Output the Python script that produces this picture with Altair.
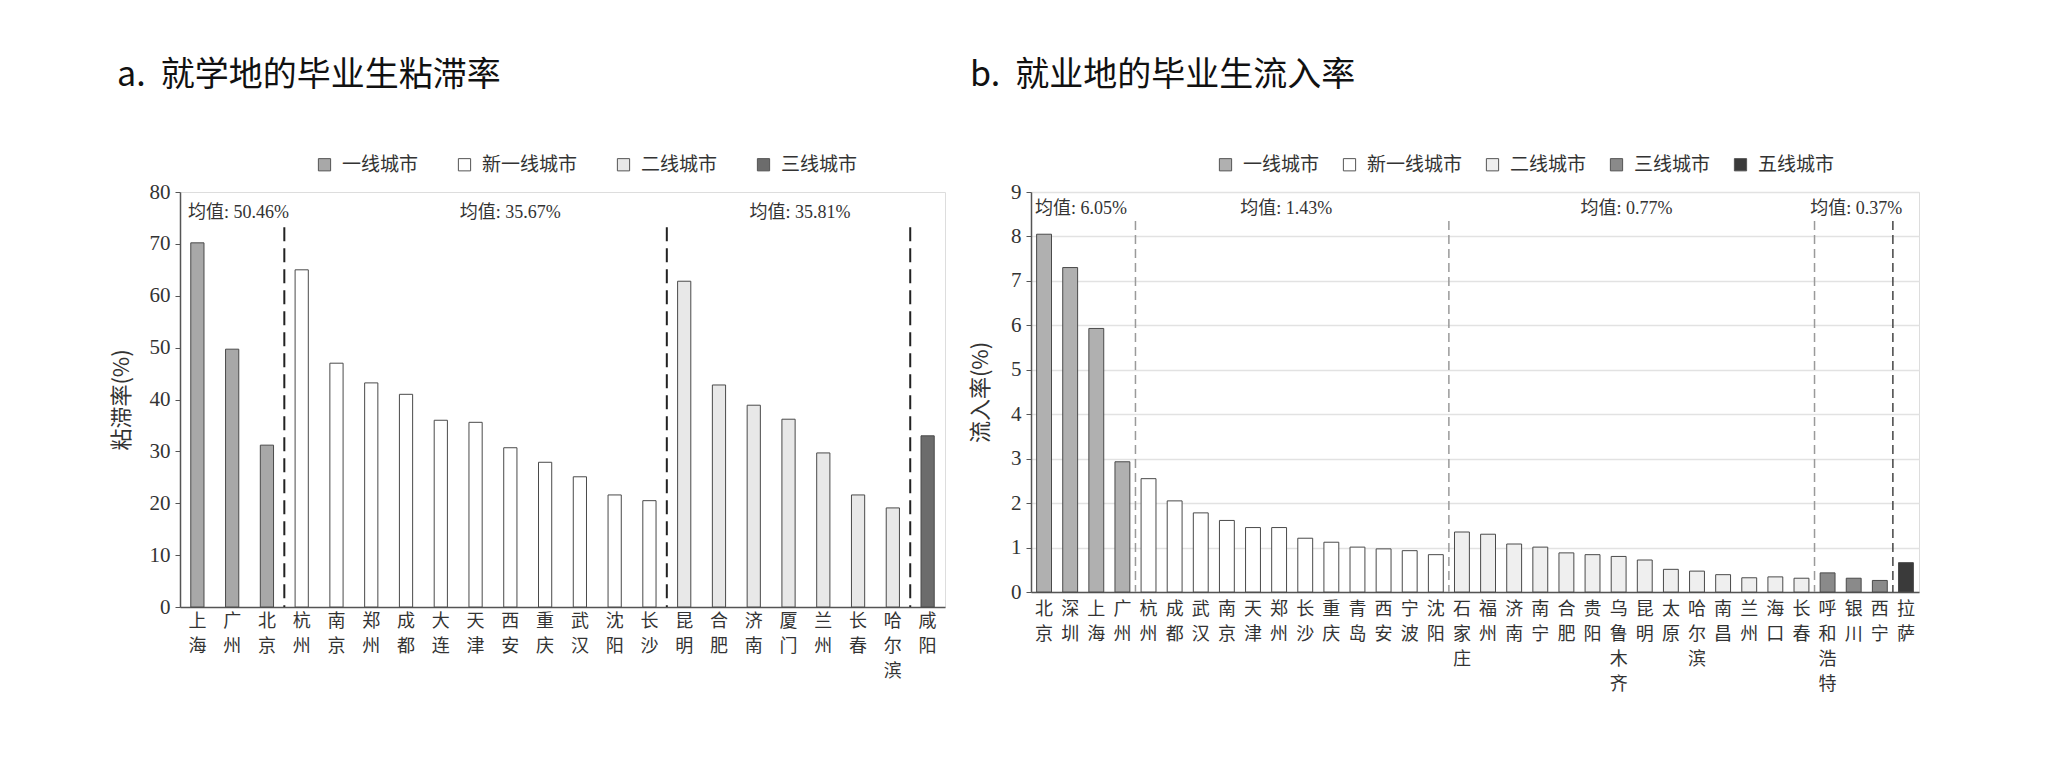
import altair as alt
import pandas as pd

CJK = "Noto Sans CJK SC"
NUM = "Liberation Serif, Noto Sans CJK SC"

# ---------------- Panel a data ----------------
a_title = "a.\u00a0\u00a0就学地的毕业生粘滞率"
a_cities = ["上海", "广州", "北京", "杭州", "南京", "郑州", "成都", "大连", "天津", "西安",
            "重庆", "武汉", "沈阳", "长沙", "昆明", "合肥", "济南", "厦门", "兰州", "长春",
            "哈尔滨", "咸阳"]
a_values = [70.2, 49.7, 31.2, 65.0, 47.0, 43.2, 41.0, 36.0, 35.6, 30.7,
            27.9, 25.1, 21.6, 20.5, 62.8, 42.8, 38.9, 36.2, 29.7, 21.6,
            19.1, 33.0]
a_tiers = ["一线城市", "一线城市", "一线城市",
           "新一线城市", "新一线城市", "新一线城市", "新一线城市", "新一线城市", "新一线城市",
           "新一线城市", "新一线城市", "新一线城市", "新一线城市", "新一线城市",
           "二线城市", "二线城市", "二线城市", "二线城市", "二线城市", "二线城市", "二线城市",
           "三线城市"]
a_tier_domain = ["一线城市", "新一线城市", "二线城市", "三线城市"]
a_tier_fill = ["#a8a8a8", "#ffffff", "#e8e8e8", "#6c6c6c"]
a_yticks = [0, 10, 20, 30, 40, 50, 60, 70, 80]
a_divider_cities = ["杭州", "昆明", "咸阳"]
a_divider_colors = ["#222222", "#222222", "#222222"]
a_divider_top = 73.2
a_mean_texts = ["均值: 50.46%", "均值: 35.67%", "均值: 35.81%"]
a_mean_cities = ["上海", "西安", "兰州"]
a_mean_band = [0.0, 0.5, 0.0]
a_mean_align = ["left", "center", "center"]
a_mean_dx = [8, 0, -6]
a_mean_y = 76.0

# ---------------- Panel b data ----------------
b_title = "b.\u00a0\u00a0就业地的毕业生流入率"
b_cities = ["北京", "深圳", "上海", "广州", "杭州", "成都", "武汉", "南京", "天津", "郑州",
            "长沙", "重庆", "青岛", "西安", "宁波", "沈阳", "石家庄", "福州", "济南", "南宁",
            "合肥", "贵阳", "乌鲁木齐", "昆明", "太原", "哈尔滨", "南昌", "兰州", "海口", "长春",
            "呼和浩特", "银川", "西宁", "拉萨"]
b_values = [8.05, 7.30, 5.93, 2.93, 2.55, 2.05, 1.78, 1.61, 1.45, 1.45,
            1.21, 1.12, 1.01, 0.97, 0.93, 0.84, 1.35, 1.30, 1.08, 1.01,
            0.88, 0.84, 0.80, 0.72, 0.51, 0.47, 0.39, 0.32, 0.34, 0.31,
            0.43, 0.31, 0.26, 0.66]
b_tiers = ["一线城市", "一线城市", "一线城市", "一线城市",
           "新一线城市", "新一线城市", "新一线城市", "新一线城市", "新一线城市", "新一线城市",
           "新一线城市", "新一线城市", "新一线城市", "新一线城市", "新一线城市", "新一线城市",
           "二线城市", "二线城市", "二线城市", "二线城市", "二线城市", "二线城市", "二线城市",
           "二线城市", "二线城市", "二线城市", "二线城市", "二线城市", "二线城市", "二线城市",
           "三线城市", "三线城市", "三线城市",
           "五线城市"]
b_tier_domain = ["一线城市", "新一线城市", "二线城市", "三线城市", "五线城市"]
b_tier_fill = ["#b0b0b0", "#ffffff", "#efefef", "#8a8a8a", "#3a3a3a"]
b_yticks = [0, 1, 2, 3, 4, 5, 6, 7, 8, 9]
b_divider_cities = ["杭州", "石家庄", "呼和浩特", "拉萨"]
b_divider_colors = ["#9a9a9a", "#9a9a9a", "#9a9a9a", "#444444"]
b_divider_top = 8.35
b_mean_texts = ["均值: 6.05%", "均值: 1.43%", "均值: 0.77%", "均值: 0.37%"]
b_mean_cities = ["北京", "郑州", "乌鲁木齐", "银川"]
b_mean_band = [0.0, 0.77, 0.8, 0.6]
b_mean_align = ["left", "center", "center", "center"]
b_mean_dx = [4, 0, 0, 0]
b_mean_y = 8.62


def panel(title, cities, values, tiers, tier_domain, tier_fill, yticks, ymax, ytitle,
          width, height, bar_band, grid, div_cities, div_colors, div_top, div_dash,
          div_width, mean_texts, mean_cities, mean_band, mean_align, mean_dx, mean_y,
          legend_x, legend_pad, title_x, ytitle_x, label_pad):
    df = pd.DataFrame({"city": cities, "value": values, "tier": tiers})
    xscale = alt.Scale(domain=cities, paddingInner=0, paddingOuter=0)
    yscale = alt.Scale(domain=[0, ymax], nice=False, zero=True)
    xaxis = alt.Axis(title=None, labelAngle=0, labelExpr="split(datum.label, '')",
                     labelLineHeight=25, labelFontSize=18, labelFont=CJK,
                     labelColor="#333333", labelBaseline="top", labelPadding=label_pad,
                     ticks=False, domainColor="#555555", domainWidth=1.5)
    yaxis = alt.Axis(title=ytitle, values=yticks, titleX=ytitle_x, titleFont=CJK,
                     titleFontSize=22, titleFontWeight="normal", titleColor="#333333",
                     labelFont=NUM, labelFontSize=21, labelColor="#333333",
                     tickSize=5, tickColor="#555555", domainColor="#555555",
                     domainWidth=1.5, labelPadding=5, grid=grid,
                     gridColor="#e2e2e2", gridWidth=1.5)
    bars = alt.Chart(df).mark_bar(
        width=alt.RelativeBandSize(bar_band), stroke="#4a4a4a", strokeWidth=1
    ).encode(
        x=alt.X("city:N", scale=xscale, axis=xaxis),
        y=alt.Y("value:Q", scale=yscale, axis=yaxis),
        fill=alt.Fill("tier:N", scale=alt.Scale(domain=tier_domain, range=tier_fill),
                      legend=alt.Legend(title=None, orient="none", legendX=legend_x,
                                        legendY=-37, direction="horizontal",
                                        columns=len(tier_domain), symbolType="square",
                                        symbolSize=150, symbolStrokeColor="#555555",
                                        symbolStrokeWidth=1, symbolOpacity=1,
                                        labelFont=CJK, labelFontSize=19,
                                        labelColor="#333333", labelOffset=8,
                                        columnPadding=legend_pad)),
    )
    ddf = pd.DataFrame({"city": div_cities, "top": [div_top] * len(div_cities),
                        "bottom": [0] * len(div_cities), "col": div_colors})
    rules = alt.Chart(ddf).mark_rule(strokeDash=div_dash, strokeWidth=div_width).encode(
        x=alt.X("city:N", bandPosition=0),
        y=alt.Y("top:Q", title=ytitle),
        y2="bottom:Q",
        color=alt.Color("col:N", scale=None),
    )
    layers = [bars, rules]
    for t, c, bp, al, dx in zip(mean_texts, mean_cities, mean_band, mean_align, mean_dx):
        mdf = pd.DataFrame({"city": [c], "y": [mean_y], "t": [t]})
        layers.append(
            alt.Chart(mdf).mark_text(align=al, baseline="middle", dx=dx, fontSize=18,
                                     font=NUM, color="#333333").encode(
                x=alt.X("city:N", bandPosition=bp),
                y=alt.Y("y:Q", title=ytitle),
                text="t:N",
            )
        )
    tdf = pd.DataFrame({"t": [title]})
    layers.append(
        alt.Chart(tdf).mark_text(align="left", baseline="middle", fontSize=34, font=CJK,
                                 color="#111111").encode(
            x=alt.value(title_x), y=alt.value(-116), text="t:N")
    )
    return alt.layer(*layers).properties(width=width, height=height)


left = panel(a_title, a_cities, a_values, a_tiers, a_tier_domain, a_tier_fill, a_yticks, 80,
             "粘滞率(%)", 765, 415, 0.38, False, a_divider_cities, a_divider_colors,
             a_divider_top, [14, 7], 2, a_mean_texts, a_mean_cities, a_mean_band,
             a_mean_align, a_mean_dx, a_mean_y, 135, 36, -63, -47, 5)
right = panel(b_title, b_cities, b_values, b_tiers, b_tier_domain, b_tier_fill, b_yticks, 9,
              "流入率(%)", 888, 400, 0.57, True, b_divider_cities, b_divider_colors,
              b_divider_top, [9, 5], 1.5, b_mean_texts, b_mean_cities, b_mean_band,
              b_mean_align, b_mean_dx, b_mean_y, 185, 20, -61, -39, 8)

chart = alt.hconcat(left, right, spacing=86, bounds="flush").resolve_scale(
    x="independent", y="independent", fill="independent", color="independent"
).resolve_legend(fill="independent").properties(
    padding={"left": 101, "top": 50, "right": 10, "bottom": 10}
).configure_view(stroke=None).configure(background="white")

chart.save("out.html", embed_options={"renderer": "svg", "actions": False})
